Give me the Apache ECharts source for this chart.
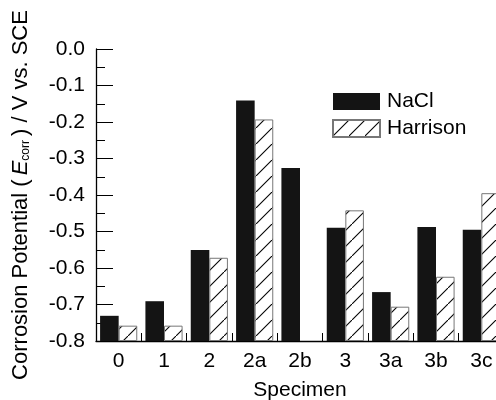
<!DOCTYPE html>
<html>
<head>
<meta charset="utf-8">
<script src="https://cdn.jsdelivr.net/npm/echarts@6/dist/echarts.min.js"></script>
<style>
html,body{margin:0;padding:0;background:#fff;}
#c{width:496px;height:400px;}
</style>
</head>
<body>
<div id="c"></div>
<script>
// Data (V vs. SCE)
var categories = ['0', '1', '2', '2a', '2b', '3', '3a', '3b', '3c'];
var nacl = [-0.731, -0.691, -0.551, -0.141, -0.326, -0.490, -0.666, -0.488, -0.495];
var harrison = [-0.758, -0.758, -0.572, -0.193, null, -0.442, -0.706, -0.624, -0.395];
var yTicks = ['0.0', '-0.1', '-0.2', '-0.3', '-0.4', '-0.5', '-0.6', '-0.7', '-0.8'];

// Bars rise from the axis floor (-0.8); plot height above floor, label axis in real units
var FLOOR = -0.8;
function lift(arr) { return arr.map(function (v) { return v == null ? null : +(v - FLOOR).toFixed(4); }); }

var FONT = '"Liberation Sans", Arial, Helvetica, sans-serif';

// hatch pattern
var tile = document.createElement('canvas');
tile.width = 16; tile.height = 16;
var g = tile.getContext('2d');
g.fillStyle = '#fff'; g.fillRect(0, 0, 16, 16);
g.strokeStyle = '#000'; g.lineWidth = 1.1;
g.beginPath(); g.moveTo(-2, 18); g.lineTo(18, -2); g.stroke();

var chart = echarts.init(document.getElementById('c'), null, {renderer: 'canvas'});
chart.setOption({
  animation: false,
  backgroundColor: '#fff',
  textStyle: {fontFamily: FONT, color: '#000'},
  grid: {left: 96, top: 49, width: 408, height: 292, containLabel: false, outerBoundsMode: 'none'},
  legend: {
    orient: 'vertical', left: 332, top: 91, padding: 0,
    itemWidth: 47, itemHeight: 17, itemGap: 6,
    icon: 'rect',
    textStyle: {fontSize: 21, fontFamily: FONT, color: '#000', padding: [0, 0, 0, 2]},
    data: ['NaCl', 'Harrison']
  },
  xAxis: {
    type: 'category', data: categories,
    name: 'Specimen', nameLocation: 'middle', nameGap: 39,
    nameTextStyle: {fontSize: 21, fontFamily: FONT, color: '#000'},
    axisLine: {lineStyle: {color: '#000', width: 1.3}},
    axisTick: {show: true, inside: true, length: 8, alignWithLabel: false, lineStyle: {color: '#000'}},
    axisLabel: {fontSize: 21, fontFamily: FONT, color: '#000', margin: 10},
    splitLine: {show: false}
  },
  yAxis: {
    type: 'value', min: 0, max: 0.8, interval: 0.1,
    name: '{n|Corrosion Potential (}{i|E}{s|corr}{n|) / V vs. SCE}',
    nameLocation: 'middle', nameGap: 64, nameRotate: 90,
    nameTextStyle: {
      fontSize: 22, fontFamily: FONT, color: '#000',
      rich: {
        n: {fontSize: 22, fontFamily: FONT, color: '#000'},
        i: {fontSize: 22, fontFamily: FONT, fontStyle: 'italic', color: '#000', padding: [0, 0, 0, 4]},
        s: {fontSize: 12, fontFamily: FONT, color: '#000', verticalAlign: 'bottom', padding: [0, 4, 0, 0]}
      }
    },
    axisLine: {show: true, lineStyle: {color: '#000', width: 1.3}},
    axisTick: {show: true, inside: true, length: 17, lineStyle: {color: '#000'}},
    minorTick: {show: true, splitNumber: 2, length: 9, lineStyle: {color: '#000'}},
    axisLabel: {
      fontSize: 21, fontFamily: FONT, color: '#000', margin: 11,
      formatter: function (v) { return yTicks[Math.round((0.8 - v) * 10)]; }
    },
    splitLine: {show: false}
  },
  series: [
    {
      name: 'NaCl', type: 'bar', data: lift(nacl),
      barGap: '0%', barCategoryGap: '18%',
      itemStyle: {color: '#141414'}
    },
    {
      name: 'Harrison', type: 'bar', data: lift(harrison),
      barGap: '0%', barCategoryGap: '18%',
      itemStyle: {color: {image: tile, repeat: 'repeat'}, borderColor: '#777', borderWidth: 1}
    }
  ]
});
</script>
</body>
</html>
